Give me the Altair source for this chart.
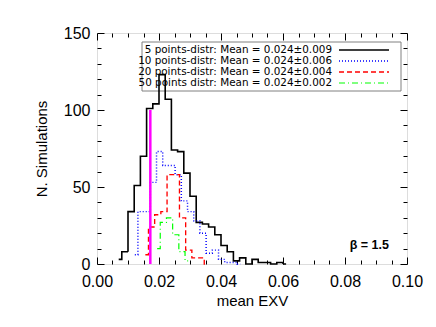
import altair as alt
import pandas as pd

# ---------------- data ----------------
series_names = ["5 points", "10 points", "20 points", "50 points"]

black_x = [0.007, 0.009, 0.011, 0.013, 0.015, 0.017, 0.019, 0.021, 0.023, 0.025,
           0.027, 0.029, 0.031, 0.033, 0.035, 0.037, 0.039, 0.041, 0.043, 0.045,
           0.047, 0.049, 0.051, 0.053, 0.055, 0.057, 0.059, 0.061]
black_n = [3, 8, 34, 51, 70, 101, 104, 123, 107, 74,
           73, 59, 44, 27, 26, 24, 19, 12, 8, 2,
           4, 0, 3, 1, 1, 0, 1, 0]

blue_x = [0.0122, 0.0142, 0.0162, 0.0182, 0.0202, 0.0222, 0.0242, 0.0262, 0.0282,
          0.0302, 0.0322, 0.0342, 0.0362, 0.0382, 0.0402, 0.0422, 0.0442, 0.0462]
blue_n = [6, 34, 34, 53, 73, 64, 64, 58, 41, 34, 28, 20, 7, 9, 3, 1, 1, 0]

red_x = [0.0156, 0.0176, 0.0196, 0.0216, 0.0236, 0.0256, 0.0276, 0.0296, 0.0316,
         0.0336, 0.0356]
red_n = [6, 24, 32, 34, 58, 58, 30, 9, 4, 4, 0]

green_x = [0.0194, 0.0214, 0.0234, 0.0254, 0.0274, 0.0294]
green_n = [10, 27, 30, 19, 8, 2]

mean_x = [0.0172]
mean_top = [100]

legend_labels = [
    "5 points-distr: Mean = 0.024\u00b10.009",
    "10 points-distr: Mean = 0.024\u00b10.006",
    "20 points-distr: Mean = 0.024\u00b10.004",
    "50 points distr: Mean = 0.024\u00b10.002",
]
beta_label = ["\u03b2 = 1.5"]

x_major = [0.0, 0.02, 0.04, 0.06, 0.08, 0.10]
x_minor = [0.005, 0.01, 0.015, 0.025, 0.03, 0.035, 0.045, 0.05, 0.055,
           0.065, 0.07, 0.075, 0.085, 0.09, 0.095]
y_major = [0, 50, 100, 150]
y_minor = [10, 20, 30, 40, 60, 70, 80, 90, 110, 120, 130, 140]

# ---------------- styles ----------------
colors = ["#000000", "#0000ff", "#ff0000", "#00ff00"]
dashes = [[1, 0], [1, 2], [5, 3], [6, 3, 1, 3]]
widths = [1.6, 1.2, 1.5, 1.2]
FONT = "Liberation Sans"
LEG_FONT = "DejaVu Sans"

rows = []
for name, xs_, ns_ in zip(series_names, [black_x, blue_x, red_x, green_x],
                          [black_n, blue_n, red_n, green_n]):
    for xv, nv in zip(xs_, ns_):
        rows.append({"series": name, "x": xv, "n": nv})
df = pd.DataFrame(rows)

xs = alt.Scale(domain=[0, 0.1], nice=False, zero=False)
ys = alt.Scale(domain=[0, 150], nice=False)

color_enc = alt.Color("series:N", scale=alt.Scale(domain=series_names, range=colors), legend=None)
dash_enc = alt.StrokeDash("series:N", scale=alt.Scale(domain=series_names, range=dashes), legend=None)
width_enc = alt.StrokeWidth("series:N", scale=alt.Scale(domain=series_names, range=widths), legend=None)

main_x_axis = alt.Axis(orient="bottom", values=x_major, format=".2f", ticks=False, domain=False,
                       grid=False, labelFlush=False, labelFont=FONT, labelFontSize=16,
                       labelColor="black", labelPadding=9, title="mean EXV", titleFont=FONT,
                       titleFontSize=15, titleFontWeight="normal", titleColor="black",
                       titlePadding=4)
main_y_axis = alt.Axis(orient="left", values=y_major, format="d", ticks=False, domain=False,
                       grid=False, labelFlush=False, labelFont=FONT, labelFontSize=16,
                       labelColor="black", labelPadding=7, title="N. Simulations",
                       titleFont=FONT, titleFontSize=15, titleFontWeight="normal",
                       titleColor="black", titlePadding=14)

lines = alt.Chart(df).mark_line(interpolate="step").encode(
    x=alt.X("x:Q", scale=xs, axis=main_x_axis),
    y=alt.Y("n:Q", scale=ys, axis=main_y_axis),
    color=color_enc, strokeDash=dash_enc, strokeWidth=width_enc,
    detail="series:N",
)

mean_df = pd.DataFrame({"x": mean_x, "y0": [0], "y1": mean_top})
mean_rule = alt.Chart(mean_df).mark_rule(color="#ff00ff", strokeWidth=2.5).encode(
    x=alt.X("x:Q", scale=xs, axis=None),
    y=alt.Y("y0:Q", scale=ys, axis=None),
    y2="y1:Q",
)


def tick_layer(orient_x, orient_y, xvals, yvals, size):
    ax = alt.Axis(orient=orient_x, values=xvals, labels=False, domain=False, grid=False,
                  tickSize=alt.ExprRef(expr=str(-size)), tickColor="black", tickWidth=1, title=None)
    ay = alt.Axis(orient=orient_y, values=yvals, labels=False, domain=False, grid=False,
                  tickSize=alt.ExprRef(expr=str(-size)), tickColor="black", tickWidth=1, title=None)
    return alt.Chart(df).mark_point(opacity=0).encode(
        x=alt.X("x:Q", scale=xs, axis=ax),
        y=alt.Y("n:Q", scale=ys, axis=ay),
    )


t1 = tick_layer("bottom", "left", x_major, y_major, 7)
t2 = tick_layer("bottom", "left", x_minor, y_minor, 4)
t3 = tick_layer("top", "right", x_major, y_major, 7)
t4 = tick_layer("top", "right", x_minor, y_minor, 4)

# legend
leg_df = pd.DataFrame({"label": legend_labels, "series": series_names, "idx": [0, 1, 2, 3]})
leg_box = alt.Chart(pd.DataFrame({"a": [0]})).mark_rect(
    fill=None, stroke="#808080", strokeWidth=1).encode(
    x=alt.value(45), x2=alt.value(304), y=alt.value(9), y2=alt.value(58))
leg_text = alt.Chart(leg_df).transform_calculate(py="17 + 11 * datum.idx").mark_text(
    align="right", baseline="middle", font=LEG_FONT, fontSize=10.4, color="black").encode(
    x=alt.value(235), y=alt.Y("py:Q", scale=None, axis=None), text="label:N")
leg_lines = alt.Chart(leg_df).transform_calculate(py="17 + 11 * datum.idx").mark_rule().encode(
    x=alt.value(242), x2=alt.value(292), y=alt.Y("py:Q", scale=None, axis=None),
    color=color_enc, strokeDash=dash_enc, strokeWidth=width_enc)

beta = alt.Chart(pd.DataFrame({"t": beta_label})).mark_text(
    align="right", baseline="middle", font=FONT, fontSize=12.5, fontWeight="bold",
    color="black").encode(x=alt.value(292), y=alt.value(212), text="t:N")

chart = alt.layer(
    t1, t2, t3, t4, leg_box, leg_text, leg_lines, lines, mean_rule, beta
).resolve_scale(x="independent", y="independent").resolve_axis(
    x="independent", y="independent"
).properties(
    width=310, height=231, autosize=alt.AutoSizeParams(type="none"),
    padding={"left": 89, "top": 25, "right": 20, "bottom": 54},
).configure_view(stroke="black", strokeWidth=1.5).configure(background="white")

chart.save("out.html", embed_options={"renderer": "svg", "actions": False})
